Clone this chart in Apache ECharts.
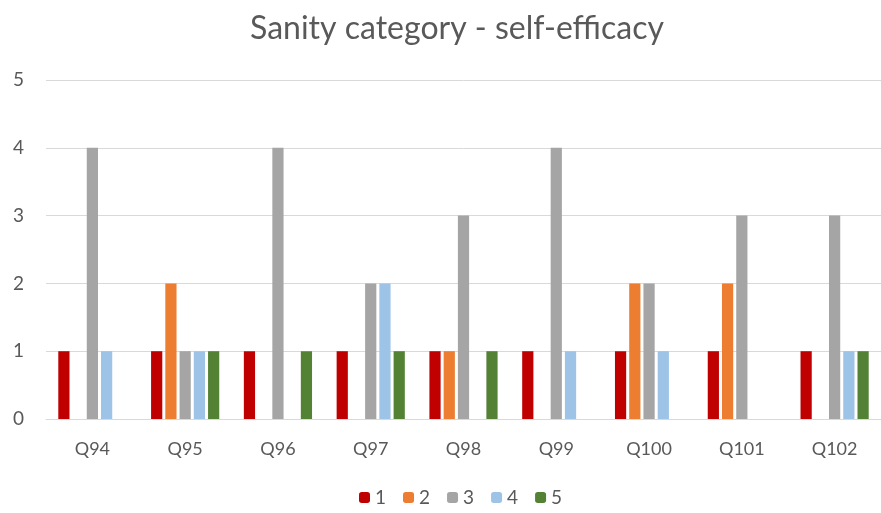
<!DOCTYPE html>
<html><head><meta charset="utf-8">
<script src="https://cdn.jsdelivr.net/npm/echarts@6/dist/echarts.min.js"></script>
<style>html,body{margin:0;padding:0;background:#fff}#c{width:881px;height:513px}</style>
</head><body><div id="c"></div>
<script>
const categories = ['Q94','Q95','Q96','Q97','Q98','Q99','Q100','Q101','Q102'];
const seriesNames = ['1','2','3','4','5'];
const s1 = [1,1,1,1,1,1,1,1,1];
const s2 = [0,2,0,0,1,0,2,2,0];
const s3 = [4,1,4,2,3,4,2,3,3];
const s4 = [1,1,0,2,0,1,1,0,1];
const s5 = [0,1,1,1,1,0,0,0,1];
const yTicks = [0,1,2,3,4,5];
const colors = ['#C00000','#ED7D31','#A5A5A5','#9DC3E6','#548235'];
const allData = [s1,s2,s3,s4,s5];
const font = 'Lato, "Open Sans", sans-serif';
const chart = echarts.init(document.getElementById('c'));
chart.setOption({
  animation:false,
  title:{text:'Sanity category - self-efficacy',left:245,top:8,
    textStyle:{fontFamily:font,fontSize:32,fontWeight:'normal',color:'#595959'}},
  legend:{bottom:1,left:354,itemWidth:11,itemHeight:11,itemGap:17,
    textStyle:{fontFamily:font,fontSize:19,color:'#595959'},
    data:seriesNames},
  grid:{left:46,top:80,width:840,height:339,containLabel:false},
  xAxis:{type:'category',data:categories,
    axisLine:{lineStyle:{color:'#d9d9d9'}},axisTick:{show:false},
    axisLabel:{fontFamily:font,fontSize:18,color:'#595959',margin:21}},
  yAxis:{type:'value',min:yTicks[0],max:yTicks[yTicks.length-1],interval:1,
    axisLine:{show:false},axisTick:{show:false},
    splitLine:{lineStyle:{color:'#d9d9d9'}},
    axisLabel:{fontFamily:font,fontSize:19,color:'#595959',margin:22}},
  series: seriesNames.map((n,i)=>({name:n,type:'bar',data:allData[i],
    itemStyle:{color:colors[i]},barGap:'27%',barCategoryGap:'26.5%'}))
});
</script></body></html>
